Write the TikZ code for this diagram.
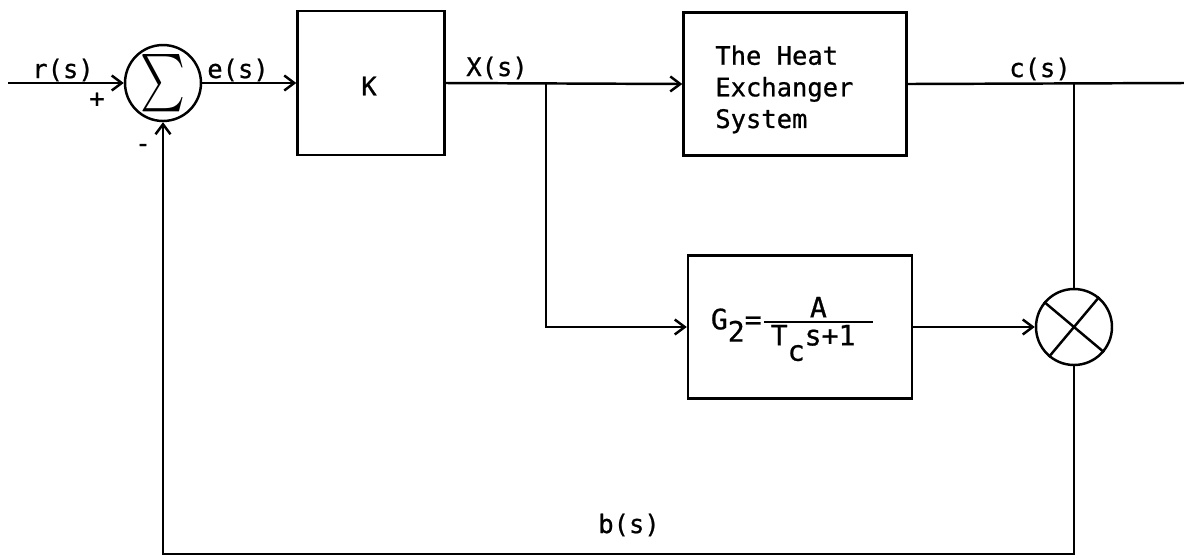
\documentclass[tikz,border=0pt]{standalone}
\usepackage{amsmath}
\usepackage{graphicx}
\usepackage{fontspec}
\newfontfamily\typefont[FakeBold=0.8]{DejaVu Sans Mono}
\usetikzlibrary{arrows.meta,calc,positioning}

\begin{document}
\begin{tikzpicture}[x=0.02cm,y=-0.02cm,
    font=\typefont\fontsize{14.5}{18}\selectfont,
    wire/.style={line width=1.4pt},
    sig/.style={wire,-{Straight Barb[length=2mm,width=3mm]}},
    blk/.style={draw,wire,inner sep=0pt},
    junc/.style={draw,wire,circle,minimum size=1.52cm,inner sep=0pt},
    lbl/.style={anchor=base,inner sep=0pt}]
    \useasboundingbox (0,0) rectangle (1184,556);
    % Summing point, blocks and multiplier
    \node[junc] (sum) at (163,83) {\resizebox{0.9cm}{0.86cm}{$\sum$}};
    \node[blk,minimum width=2.94cm,minimum height=2.88cm] (k) at (371,83) {};
    \node (ktext) at (369,86) {K};
    \node[blk,minimum width=4.46cm,minimum height=2.86cm] (hx) at (795,84) {};
    \node[align=left,anchor=north west,inner sep=0pt] (hxtext) at (715,45)
        {The Heat\\Exchanger\\System};
    \node[blk,minimum width=4.48cm,minimum height=2.86cm] (g2) at (800,327) {};
    \node[font=\typefont\fontsize{16}{18}\selectfont] (g2text) at (793,329)
        {G\raisebox{-0.8ex}{2}=$\genfrac{}{}{1.2pt}{}{\hbox{A}}{\hbox{\kern4pt T\raisebox{-1ex}{c}s+1\kern10pt}}$};
    \node[junc] (mul) at (1074,327) {};
    \draw[wire] (mul.140) -- (mul.-40) (mul.50) -- (mul.230);

    % Branch points and free ends
    \coordinate (in) at (8,83);
    \coordinate (xsplit) at (546,83);
    \coordinate (csplit) at (1074,83);
    \coordinate (out) at (1184,83);
    \coordinate (fb) at (1074,554);

    % Signal lines
    \draw[sig] (in) -- (sum.west);
    \draw[sig] (sum.east) -- (k.west);
    \draw[sig] (k.east) -- (hx.west);
    \draw[wire] (hx.east) -- (out);
    \draw[sig] (xsplit) |- (g2.west);
    \draw[sig] (g2.east) -- (mul.west);
    \draw[wire] (csplit) -- (mul.north);
    \draw[sig] (mul.south) -- (fb) -| (sum.south);

    % Labels
    \node[lbl] (rlab) at (63,78) {r(s)};
    \node[lbl] (elab) at (238,78) {e(s)};
    \node[lbl] (xlab) at (497,76) {X(s)};
    \node[lbl] (clab) at (1040,77) {c(s)};
    \node[lbl] (blab) at (629,533) {b(s)};
    \node (plus) at (97,100) {+};
    \node (minus) at (143,148) {-};
\end{tikzpicture}
\end{document}
